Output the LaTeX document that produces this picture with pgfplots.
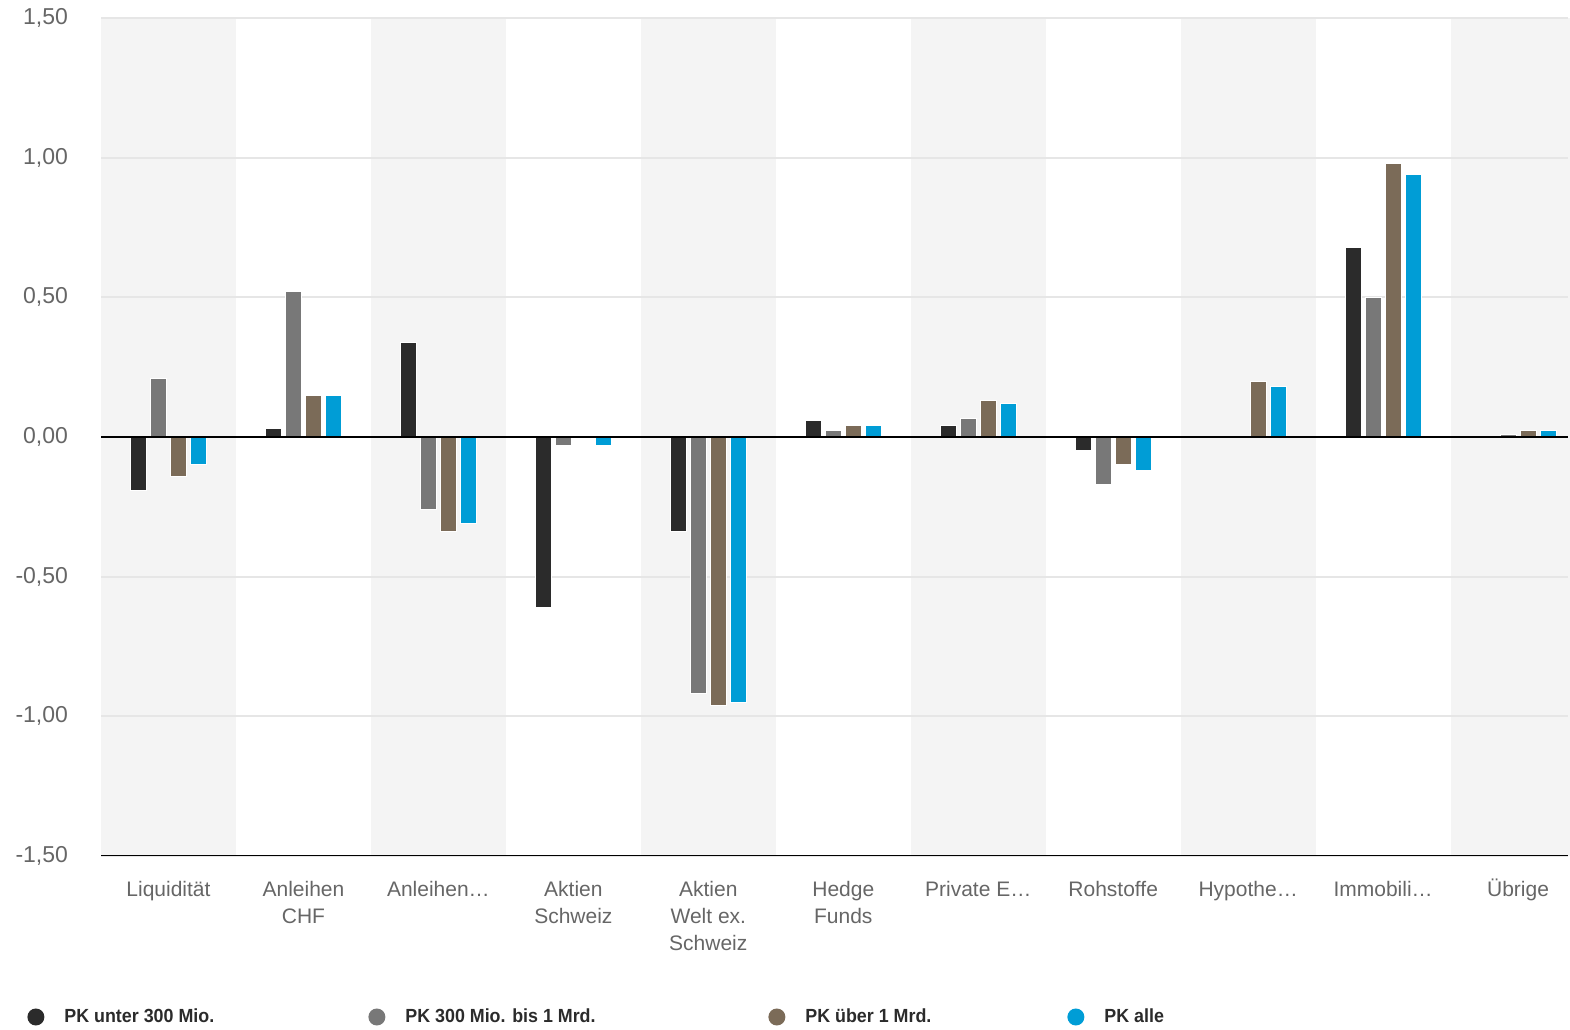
\documentclass[border=0pt]{standalone}
\usepackage{pgfplots}
\pgfplotsset{compat=1.18}
\usepackage{fontspec}
\setmainfont{Liberation Sans}
\newfontfamily\legfont[FakeStretch=0.94]{Liberation Sans}

\definecolor{cdark}{HTML}{2B2B2B}
\definecolor{cgray}{HTML}{787878}
\definecolor{cbrown}{HTML}{7B6B58}
\definecolor{cblue}{HTML}{009DD6}
\definecolor{band}{HTML}{F4F4F4}
\definecolor{gridc}{HTML}{E6E6E6}
\definecolor{txt}{HTML}{666666}
\definecolor{baseline}{HTML}{CCD6EB}

\pgfplotstableread{
x  a      b      c      d
0  -0.19  0.21   -0.14  -0.10
1  0.03   0.52   0.15   0.15
2  0.34   -0.26  -0.34  -0.31
3  -0.61  -0.03  0.00   -0.03
4  -0.34  -0.92  -0.96  -0.95
5  0.06   0.025  0.04   0.04
6  0.04   0.065  0.13   0.12
7  -0.05  -0.17  -0.10  -0.12
8  0.00   0.00   0.20   0.18
9  0.68   0.50   0.98   0.94
10 0.00   0.01   0.025  0.025
}\datatable

\begin{document}
\begin{tikzpicture}
\begin{axis}[
  set layers,
  at={(50.5pt,86.5pt)}, anchor=south west,
  scale only axis, width=733.5pt, height=419pt,
  xmin=-0.5, xmax=10.37, ymin=-1.5, ymax=1.5,
  axis line style={draw=none},
  major tick length=0pt,
  ytick={-1.5,-1,...,1.5},
  ymajorgrids, grid style={gridc, line width=1pt},
  xtick={0,...,10},
  xticklabels={\strut Liquidität, \strut Anleihen\\CHF, \strut Anleihen…,
    \strut Aktien\\Schweiz, \strut Aktien\\Welt ex.\\Schweiz,
    \strut Hedge\\Funds, \strut Private E…, \strut Rohstoffe,
    \strut Hypothe…, \strut Immobili…, \strut Übrige},
  xticklabel style={align=center, font=\fontsize{10.5}{13.5}\selectfont,
    text=txt, anchor=north, yshift=-7.3pt},
  yticklabel style={font=\fontsize{11.5}{13}\selectfont, text=txt,
    anchor=east, xshift=-13pt},
  /pgf/number format/.cd, use comma, fixed, fixed zerofill, precision=2,
    assume math mode=true,
  /pgfplots/.cd,
  ybar, bar width=8pt,
  every axis plot/.append style={draw=white, line width=0.5pt},
  legend columns=4,
  legend style={at={(axis description cs:0,0)}, anchor=west,
    xshift=-37pt, yshift=-80.5pt, draw=none, fill=none, inner sep=0pt,
    font=\legfont\fontsize{9.5}{11}\selectfont\bfseries, text=cdark,
    /tikz/every even column/.append style={column sep=0pt}},
  legend image code/.code={\fill[#1, draw=none] (4.25pt,0pt) circle (4.25pt);},
]
\begin{pgfonlayer}{axis background}
\pgfplotsinvokeforeach{0,2,4,6,8,10}{
  \fill[band] (axis cs:#1-0.5,-1.5) rectangle (axis cs:#1+0.5,1.5);
}
\end{pgfonlayer}
\addplot[fill=cdark, bar shift=-15pt] table[x=x, y=a] {\datatable};
\addlegendentry{\makebox[158pt][l]{\hspace*{8pt}PK unter 300 Mio.}}
\addplot[fill=cgray, bar shift=-5pt] table[x=x, y=b] {\datatable};
\addlegendentry{\makebox[187.5pt][l]{\hspace*{8pt}PK 300 Mio. bis 1 Mrd.}}
\addplot[fill=cbrown, bar shift=5pt] table[x=x, y=c] {\datatable};
\addlegendentry{\makebox[137pt][l]{\hspace*{8pt}PK über 1 Mrd.}}
\addplot[fill=cblue, bar shift=15pt] table[x=x, y=d] {\datatable};
\addlegendentry{\hspace*{8pt}PK alle}
\draw[black, line width=1pt] (axis cs:-0.5,0) -- (axis cs:10.37,0);
\draw[baseline, line width=0.8pt] (axis cs:-0.5,-1.5) -- (axis cs:10.37,-1.5);
\end{axis}
\pgfresetboundingbox
\useasboundingbox (0,0) rectangle (785pt,514.5pt);
\end{tikzpicture}
\end{document}
